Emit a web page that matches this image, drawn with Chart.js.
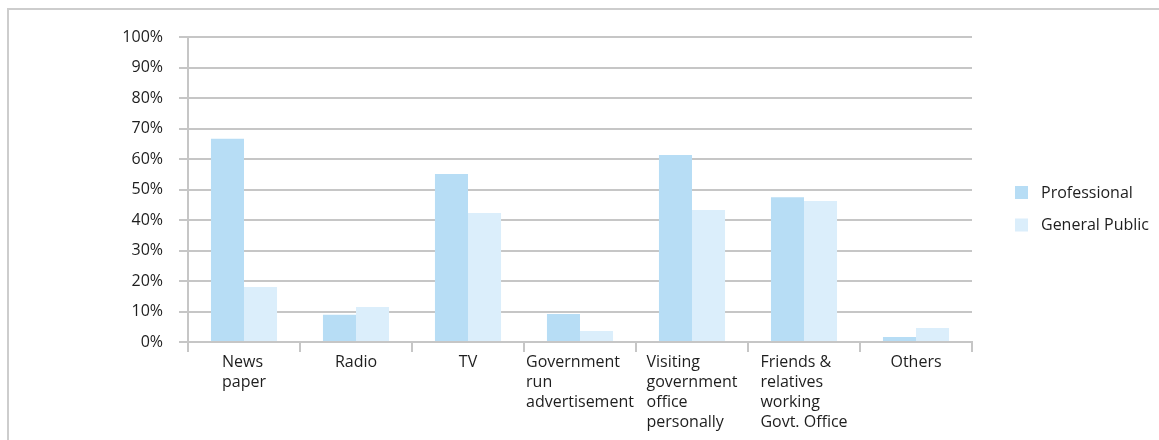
<!DOCTYPE html>
<html>
<head>
<meta charset="utf-8">
<title>Source of information</title>
<script src="https://cdn.jsdelivr.net/npm/chart.js@4.4.0/dist/chart.umd.js"></script>
<style>
    html, body { margin: 0; padding: 0; background: #ffffff; }
    #wrap { position: relative; width: 1159px; height: 440px; overflow: hidden; }
    #frame {
        position: absolute; left: 7px; top: 8px; right: -10px; bottom: -10px;
        border-top: 2px solid #cdcdcd; border-left: 2px solid #cdcdcd;
        pointer-events: none;
    }
    canvas { position: absolute; left: 0; top: 0; }
</style>
</head>
<body>
<div id="wrap">
    <canvas id="chart" width="1159" height="440"></canvas>
    <div id="frame"></div>
</div>
<script>
'use strict';

// Category labels, one array entry per line
const categories = [
    ['News', 'paper'],
    ['Radio'],
    ['TV'],
    ['Government', 'run', 'advertisement'],
    ['Visiting', 'government', 'office', 'personally'],
    ['Friends &', 'relatives', 'working', 'Govt. Office'],
    ['Others']
];

// Share of respondents (%)
const professional  = [66.6, 8.9, 55.1, 9.2, 61.3, 47.5, 1.6];
const generalPublic = [18.0, 11.5, 42.3, 3.6, 43.3, 46.2, 4.6];

const seriesNames = ['Professional', 'General Public'];
const seriesColors = ['#b7ddf5', '#dbeefb'];

const FONT = '"Open Sans", "Noto Sans", sans-serif';
const TEXT_COLOR = '#1e1e1e';
const GRID_COLOR = '#c6c6c6';

/**
 * Multi-line x labels: each block is left aligned and centred on its category
 */
const xLabelPlugin = {
    id: 'xLabels',
    afterDraw(chart) {
        const ctx = chart.ctx;
        const xScale = chart.scales.x;
        const top = chart.chartArea.bottom + 20;
        const lineHeight = 20.3;

        ctx.save();
        ctx.font = '16px ' + FONT;
        ctx.fillStyle = TEXT_COLOR;
        ctx.textBaseline = 'middle';
        ctx.textAlign = 'left';
        categories.forEach((lines, i) => {
            const centre = xScale.getPixelForTick(i);
            const blockWidth = Math.max(...lines.map(l => ctx.measureText(l).width));
            const left = centre - blockWidth / 2;
            lines.forEach((line, k) => {
                ctx.fillText(line, left, top + k * lineHeight);
            });
        });
        ctx.restore();
    }
};

/**
 * Legend on the right with square swatches
 */
const sideLegendPlugin = {
    id: 'sideLegend',
    afterDraw(chart) {
        const ctx = chart.ctx;
        const x = chart.chartArea.right + 43;
        const y0 = 186;
        const step = 32.5;

        ctx.save();
        ctx.font = '16px ' + FONT;
        ctx.textBaseline = 'middle';
        ctx.textAlign = 'left';
        chart.data.datasets.forEach((ds, i) => {
            const y = y0 + i * step;
            ctx.fillStyle = ds.backgroundColor;
            ctx.fillRect(x, y, 13, 13);
            ctx.fillStyle = TEXT_COLOR;
            ctx.fillText(ds.label, x + 26, y + 7);
        });
        ctx.restore();
    }
};

const ctx = document.getElementById('chart').getContext('2d');

new Chart(ctx, {
    type: 'bar',
    data: {
        labels: categories.map(c => c.join(' ')),
        datasets: [
            {
                label: seriesNames[0],
                data: professional,
                backgroundColor: seriesColors[0],
                borderWidth: 0,
                categoryPercentage: 0.59,
                barPercentage: 1.0
            },
            {
                label: seriesNames[1],
                data: generalPublic,
                backgroundColor: seriesColors[1],
                borderWidth: 0,
                categoryPercentage: 0.59,
                barPercentage: 1.0
            }
        ]
    },
    options: {
        responsive: false,
        animation: false,
        layout: {
            padding: { left: 0, right: 187, top: 37, bottom: 0 }
        },
        plugins: {
            legend: { display: false },
            tooltip: { enabled: false }
        },
        scales: {
            x: {
                afterFit(scale) { scale.height = 98; },
                ticks: { display: false },
                grid: {
                    offset: true,
                    drawOnChartArea: false,
                    drawTicks: true,
                    tickLength: 10,
                    color: GRID_COLOR,
                    lineWidth: 2
                },
                border: { display: true, color: GRID_COLOR, width: 2 }
            },
            y: {
                min: 0,
                max: 100,
                afterFit(scale) { scale.width = 188; },
                ticks: {
                    stepSize: 10,
                    padding: 16,
                    color: TEXT_COLOR,
                    font: { family: FONT, size: 16 },
                    callback: v => v + '%'
                },
                grid: {
                    color: GRID_COLOR,
                    lineWidth: 2,
                    drawTicks: true,
                    tickLength: 9
                },
                border: { display: true, color: GRID_COLOR, width: 2 }
            }
        }
    },
    plugins: [xLabelPlugin, sideLegendPlugin]
});
</script>
</body>
</html>
